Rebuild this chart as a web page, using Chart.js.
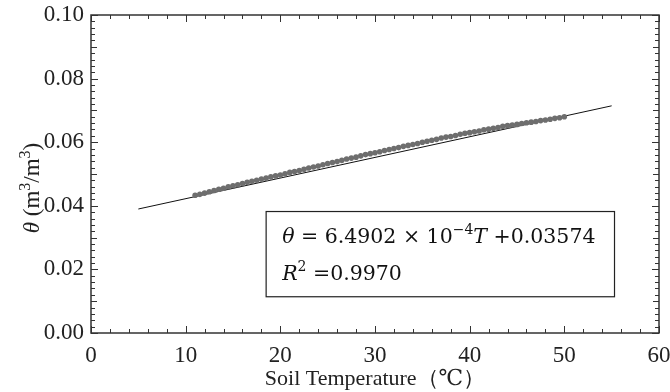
<!DOCTYPE html>
<html>
<head>
<meta charset="utf-8">
<script src="https://cdn.jsdelivr.net/npm/chart.js@4.4.1/dist/chart.umd.min.js"></script>
<style>
  html, body { margin: 0; padding: 0; background: #fff; }
  #wrap { width: 670px; height: 392px; }
</style>
</head>
<body>
<div id="wrap"><canvas id="c" width="670" height="392"></canvas></div>
<script>
// measured soil temperature (°C)
const temps = [
  11.0, 11.5, 12.0, 12.5, 13.0, 13.5, 14.0, 14.5, 15.0, 15.5,
  16.0, 16.5, 17.0, 17.5, 18.0, 18.5, 19.0, 19.5, 20.0, 20.5,
  21.0, 21.5, 22.0, 22.5, 23.0, 23.5, 24.0, 24.5, 25.0, 25.5,
  26.0, 26.5, 27.0, 27.5, 28.0, 28.5, 29.0, 29.5, 30.0, 30.5,
  31.0, 31.5, 32.0, 32.5, 33.0, 33.5, 34.0, 34.5, 35.0, 35.5,
  36.0, 36.5, 37.0, 37.5, 38.0, 38.5, 39.0, 39.5, 40.0, 40.5,
  41.0, 41.5, 42.0, 42.5, 43.0, 43.5, 44.0, 44.5, 45.0, 45.5,
  46.0, 46.5, 47.0, 47.5, 48.0, 48.5, 49.0, 49.5, 50.0
];
// measured water content (m3/m3)
const theta = [
  0.0433, 0.0436, 0.0440, 0.0444, 0.0448, 0.0452, 0.0455, 0.0460, 0.0463, 0.0466,
  0.0470, 0.0474, 0.0477, 0.0480, 0.0484, 0.0487, 0.0491, 0.0494, 0.0497, 0.0501,
  0.0505, 0.0508, 0.0511, 0.0515, 0.0519, 0.0522, 0.0525, 0.0529, 0.0533, 0.0536,
  0.0539, 0.0543, 0.0547, 0.0550, 0.0553, 0.0557, 0.0561, 0.0564, 0.0567, 0.0570,
  0.0574, 0.0577, 0.0580, 0.0583, 0.0587, 0.0590, 0.0593, 0.0596, 0.0600, 0.0603,
  0.0606, 0.0609, 0.0613, 0.0616, 0.0618, 0.0621, 0.0625, 0.0628, 0.0630, 0.0633,
  0.0635, 0.0639, 0.0641, 0.0644, 0.0646, 0.0650, 0.0652, 0.0654, 0.0656, 0.0659,
  0.0661, 0.0663, 0.0665, 0.0668, 0.0670, 0.0672, 0.0675, 0.0677, 0.0680
];
// fitted line end points
const fitT = [5, 55];
const fitTheta = [0.03899, 0.07144];

const xTicks = [0, 10, 20, 30, 40, 50, 60];
const yTicks = [0.00, 0.02, 0.04, 0.06, 0.08, 0.10];

const serif = '"Liberation Serif", "DejaVu Serif", serif';
const mathSerif = '"DejaVu Serif", serif';

// draw text pieces with italic / superscript parts, returns width
function drawRuns(ctx, x, y, runs, size, family, measureOnly) {
  let cx = x;
  runs.forEach(r => {
    const fs = r.sup ? Math.round(size * 0.68) : size;
    ctx.font = (r.italic ? 'italic ' : '') + fs + 'px ' + family;
    const w = ctx.measureText(r.text).width;
    if (!measureOnly) ctx.fillText(r.text, cx, r.sup ? y - size * 0.4 : y);
    cx += w;
  });
  return cx - x;
}

const decorPlugin = {
  id: 'decor',
  afterDraw(chart) {
    const ctx = chart.ctx;
    const a = chart.chartArea;
    const xs = chart.scales.x, ys = chart.scales.y;
    ctx.save();
    ctx.strokeStyle = '#333';
    ctx.lineWidth = 1.5;
    ctx.strokeRect(a.left, a.top, a.right - a.left, a.bottom - a.top);

    // inward ticks on all four sides
    ctx.lineWidth = 1;
    for (let v = 0; v <= 60; v += 2) {
      const px = Math.round(xs.getPixelForValue(v)) + 0.5;
      const len = v % 10 === 0 ? 7 : 4;
      ctx.beginPath();
      ctx.moveTo(px, a.bottom); ctx.lineTo(px, a.bottom - len);
      ctx.moveTo(px, a.top); ctx.lineTo(px, a.top + len);
      ctx.stroke();
    }
    for (let i = 0; i <= 50; i++) {
      const v = i * 0.002;
      const py = Math.round(ys.getPixelForValue(v)) + 0.5;
      const len = i % 10 === 0 ? 7 : (i % 5 === 0 ? 6 : 4);
      ctx.beginPath();
      ctx.moveTo(a.left, py); ctx.lineTo(a.left + len, py);
      ctx.moveTo(a.right, py); ctx.lineTo(a.right - len, py);
      ctx.stroke();
    }

    // y-axis title
    ctx.fillStyle = '#222';
    ctx.textBaseline = 'alphabetic';
    ctx.textAlign = 'left';
    const yRuns = [
      { text: '\u03b8', italic: true },
      { text: ' (m' }, { text: '3', sup: true }, { text: '/m' }, { text: '3', sup: true }, { text: ')' }
    ];
    const wT = drawRuns(ctx, 0, 0, yRuns, 23, serif, true);
    ctx.translate(39, 188);
    ctx.rotate(-Math.PI / 2);
    drawRuns(ctx, -wT / 2, 0, yRuns, 23, serif, false);
    ctx.setTransform(1, 0, 0, 1, 0, 0);

    // equation box
    const bx = xs.getPixelForValue(18.5), bx2 = xs.getPixelForValue(55.3);
    const by = ys.getPixelForValue(0.0382), by2 = ys.getPixelForValue(0.0114);
    ctx.strokeStyle = '#222';
    ctx.lineWidth = 1.2;
    ctx.strokeRect(bx, by, bx2 - bx, by2 - by);
    ctx.fillStyle = '#111';
    drawRuns(ctx, bx + 16, by + 31, [
      { text: '\u03b8', italic: true }, { text: ' = 6.4902 \u00d7 10' }, { text: '\u22124', sup: true },
      { text: 'T', italic: true }, { text: ' +0.03574' }
    ], 20.5, mathSerif, false);
    drawRuns(ctx, bx + 16, by + 68, [
      { text: 'R', italic: true }, { text: '2', sup: true }, { text: ' =0.9970' }
    ], 20.5, mathSerif, false);
    ctx.restore();
  }
};

new Chart(document.getElementById('c'), {
  type: 'scatter',
  data: {
    datasets: [
      {
        label: 'measured',
        data: temps.map((t, i) => ({ x: t, y: theta[i] })),
        backgroundColor: '#6e6e6e',
        borderColor: '#6e6e6e',
        pointRadius: 2.8,
        pointBorderWidth: 0
      },
      {
        label: 'fit',
        type: 'line',
        data: fitT.map((t, i) => ({ x: t, y: fitTheta[i] })),
        borderColor: '#111',
        borderWidth: 1,
        pointRadius: 0,
        fill: false
      }
    ]
  },
  options: {
    responsive: false,
    animation: false,
    layout: { padding: { top: 15, right: 11, left: 0, bottom: 0 } },
    plugins: { legend: { display: false }, tooltip: { enabled: false } },
    scales: {
      x: {
        type: 'linear', min: 0, max: 60,
        afterBuildTicks: s => { s.ticks = xTicks.map(v => ({ value: v })); },
        afterFit: s => { s.height = 59; s.paddingLeft = 0; s.paddingRight = 0; },
        grid: { display: false, drawTicks: false },
        border: { display: false },
        ticks: { color: '#222', font: { family: serif, size: 23 }, padding: 9, maxRotation: 0 },
        title: { display: true, text: 'Soil Temperature\uff08\u2103\uff09', color: '#222',
                 font: { family: serif, size: 22 }, padding: { top: -7, bottom: 0 } }
      },
      y: {
        type: 'linear', min: 0, max: 0.1,
        afterBuildTicks: s => { s.ticks = yTicks.map(v => ({ value: v })); },
        afterFit: s => { s.width = 91; s.paddingTop = 0; s.paddingBottom = 0; },
        grid: { display: false, drawTicks: false },
        border: { display: false },
        ticks: { color: '#222', font: { family: serif, size: 23 }, padding: 7,
                 callback: v => v.toFixed(2) }
      }
    }
  },
  plugins: [decorPlugin]
});
</script>
</body>
</html>
